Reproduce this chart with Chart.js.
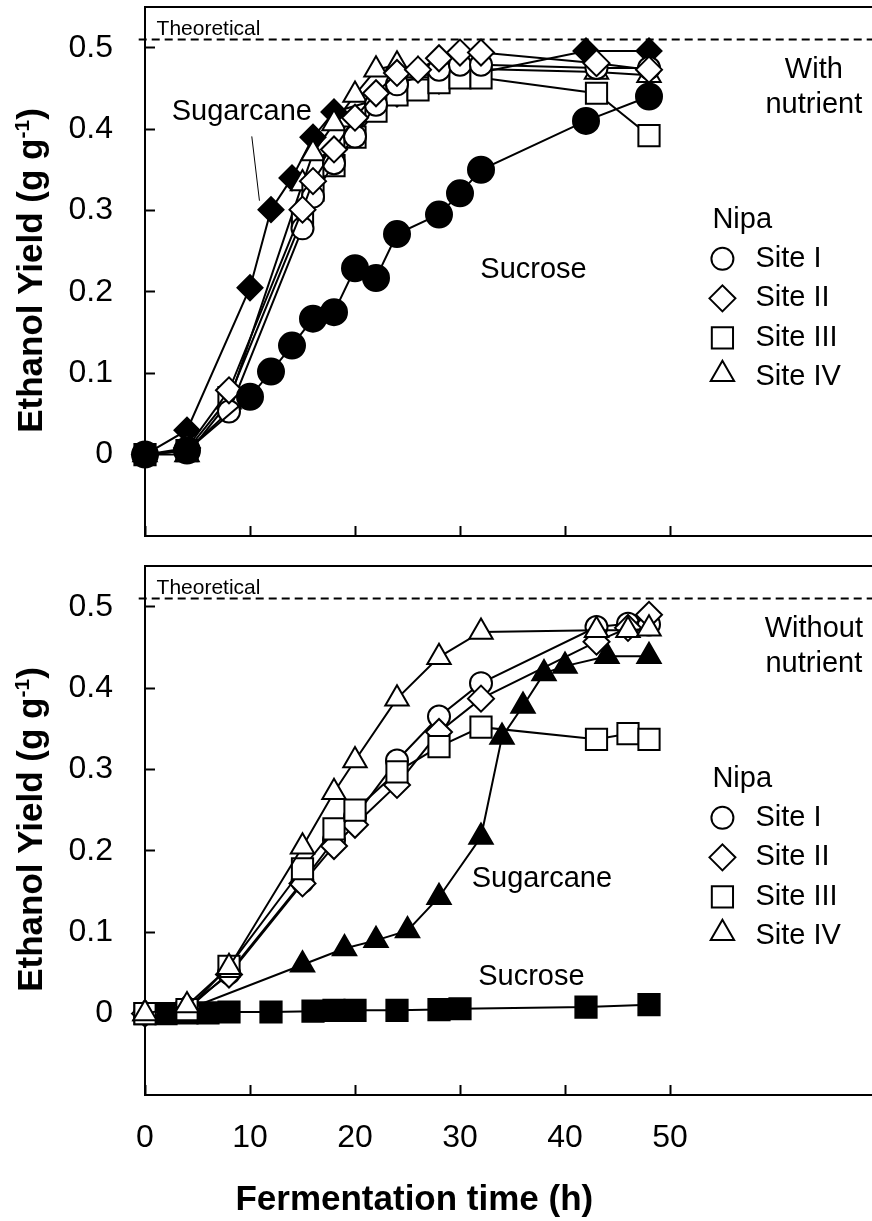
<!DOCTYPE html>
<html><head><meta charset="utf-8">
<script src="https://cdn.jsdelivr.net/npm/chart.js@4.4.1/dist/chart.umd.min.js"></script>
<style>
html,body{margin:0;padding:0;background:#fff;overflow:hidden;width:872px;height:1221px;}
#wrap{position:relative;width:872px;height:1221px;overflow:hidden;background:#fff;}
canvas{position:absolute;left:0;}
#c1{top:0}
#c2{top:559px}
</style></head><body>
<div id="wrap"><canvas id="c1" width="880" height="559"></canvas><canvas id="c2" width="880" height="662"></canvas></div>
<script>
// ---------- axis / tick data ----------
const xTicks = [0, 10, 20, 30, 40, 50];
const yTicks = [0, 0.1, 0.2, 0.3, 0.4, 0.5];
const theoreticalYield = 0.51;

// ---------- With nutrient (top panel) ----------
const wSugarcaneT = [0, 4, 10, 12, 14, 16, 18, 24, 28, 42, 48];
const wSugarcaneY = [0, 0.03, 0.205, 0.301, 0.34, 0.39, 0.421, 0.443, 0.459, 0.496, 0.496];
const wSucroseT = [0, 4, 10, 12, 14, 16, 18, 20, 22, 24, 28, 30, 32, 42, 48];
const wSucroseY = [0, 0.005, 0.071, 0.102, 0.134, 0.167, 0.175, 0.229, 0.217, 0.271, 0.295, 0.321, 0.35, 0.41, 0.44];
const wSite1T = [0, 4, 8, 15, 16, 18, 20, 22, 24, 28, 30, 32, 43, 48];
const wSite1Y = [0, 0.005, 0.053, 0.278, 0.317, 0.358, 0.391, 0.43, 0.455, 0.473, 0.479, 0.479, 0.475, 0.475];
const wSite2T = [0, 4, 8, 15, 16, 18, 20, 22, 24, 26, 28, 30, 32, 43, 48];
const wSite2Y = [0, 0.008, 0.079, 0.301, 0.336, 0.375, 0.414, 0.444, 0.469, 0.473, 0.487, 0.494, 0.494, 0.481, 0.473];
const wSite3T = [0, 4, 8, 15, 16, 18, 20, 22, 24, 26, 28, 30, 32, 43, 48];
const wSite3Y = [0, 0.005, 0.07, 0.29, 0.325, 0.355, 0.39, 0.422, 0.442, 0.448, 0.457, 0.463, 0.463, 0.444, 0.392];
const wSite4T = [0, 4, 8, 15, 16, 18, 20, 22, 24, 26, 28, 43, 48];
const wSite4Y = [0, 0, 0.065, 0.333, 0.37, 0.407, 0.442, 0.473, 0.479, 0.472, 0.475, 0.47, 0.466];

// ---------- Without nutrient (bottom panel) ----------
const nSucroseT = [0, 2, 4, 6, 8, 12, 16, 18, 20, 24, 28, 30, 42, 48];
const nSucroseY = [0, 0, 0.001, 0.001, 0.002, 0.002, 0.003, 0.004, 0.004, 0.004, 0.005, 0.006, 0.008, 0.011];
const nSugarcaneT = [0, 4, 15, 19, 22, 25, 28, 32, 34, 36, 38, 40, 44, 48];
const nSugarcaneY = [0, 0.005, 0.06, 0.08, 0.09, 0.102, 0.143, 0.217, 0.34, 0.378, 0.418, 0.427, 0.439, 0.439];
const nSite1T = [0, 4, 8, 15, 18, 20, 24, 28, 32, 43, 46, 48];
const nSite1Y = [0, 0.005, 0.05, 0.162, 0.213, 0.242, 0.311, 0.365, 0.406, 0.475, 0.479, 0.478];
const nSite2T = [0, 4, 8, 15, 18, 20, 24, 28, 32, 43, 46, 48];
const nSite2Y = [0, 0.008, 0.048, 0.16, 0.206, 0.232, 0.281, 0.346, 0.387, 0.457, 0.474, 0.49];
const nSite3T = [0, 4, 8, 15, 18, 20, 24, 28, 32, 43, 46, 48];
const nSite3Y = [0, 0.005, 0.058, 0.178, 0.227, 0.25, 0.297, 0.328, 0.352, 0.337, 0.344, 0.337];
const nSite4T = [0, 4, 8, 15, 18, 20, 24, 28, 32, 43, 46, 48];
const nSite4Y = [0, 0.01, 0.057, 0.205, 0.272, 0.311, 0.387, 0.438, 0.469, 0.471, 0.471, 0.473];

const legendNames = ['Site I', 'Site II', 'Site III', 'Site IV'];

// ---------- styles ----------
const FONT = "'Liberation Sans', Arial, Helvetica, sans-serif";
Chart.defaults.font.family = FONT;
Chart.defaults.color = '#000';

const ST = {
  site1: {shape: 'circle', r: 11, fill: '#fff'},
  site2: {shape: 'rectRot', r: 13, fill: '#fff'},
  site3: {shape: 'rect', r: 15, fill: '#fff'},
  site4: {shape: 'triangle', r: 13.5, fill: '#fff'},
  filledCircle: {shape: 'circle', r: 13, fill: '#000'},
  filledDiamond: {shape: 'rectRot', r: 12.5, fill: '#000'},
  filledTriangle: {shape: 'triangle', r: 13.5, fill: '#000'},
  filledSquare: {shape: 'rect', r: 15, fill: '#000'}
};

function series(label, t, v, st, order) {
  return {
    label, order,
    data: t.map((x, i) => ({x: x, y: v[i]})),
    xAxisID: 'x', yAxisID: 'y',
    borderColor: '#000', borderWidth: 2, tension: 0, fill: false, clip: false,
    pointStyle: st.shape, pointRadius: st.r, pointHoverRadius: st.r,
    pointBackgroundColor: st.fill, pointBorderColor: '#000', pointBorderWidth: 2
  };
}
function theoSeries() {
  return {
    label: 'Theoretical', order: 100, xAxisID: 'x', yAxisID: 'y',
    data: [{x: -0.6, y: theoreticalYield}, {x: 70, y: theoreticalYield}],
    borderColor: '#000', borderWidth: 2, borderDash: [8, 5], pointRadius: 0, clip: false, fill: false
  };
}

function noPad(s) { s.paddingLeft = 0; s.paddingRight = 0; s.paddingTop = 0; s.paddingBottom = 0; }

function makeScales(showLabels, xHeight) {
  return {
    x: {
      type: 'linear', min: 0, max: 70, position: 'bottom',
      afterBuildTicks: s => { s.ticks = xTicks.map(v => ({value: v})); },
      afterFit: s => { s.height = xHeight; noPad(s); },
      ticks: {display: showLabels, padding: 34, font: {size: 32}, color: '#000', callback: v => String(v)},
      grid: {drawOnChartArea: false, drawTicks: true, tickLength: -10, tickWidth: 2, tickColor: '#000', color: '#000'},
      border: {display: true, color: '#000', width: 2}
    },
    xTop: {
      type: 'linear', min: 0, max: 70, position: 'top',
      afterFit: s => { s.height = 0; noPad(s); },
      ticks: {display: false},
      grid: {drawOnChartArea: false, drawTicks: false},
      border: {display: true, color: '#000', width: 2}
    },
    y: {
      type: 'linear', min: -0.1, max: 0.55, position: 'left',
      afterBuildTicks: s => { s.ticks = yTicks.map(v => ({value: v})); },
      afterFit: s => { s.width = 145; noPad(s); },
      ticks: {padding: 42, font: {size: 32}, color: '#000', callback: v => (Math.abs(v) < 1e-9 ? '0' : Number(v).toFixed(1))},
      grid: {drawOnChartArea: false, drawTicks: true, tickLength: -10, tickWidth: 2, tickColor: '#000', color: '#000'},
      border: {display: true, color: '#000', width: 2}
    }
  };
}

function drawMarker(ctx, st, x, y) {
  ctx.save();
  ctx.fillStyle = st.fill; ctx.strokeStyle = '#000'; ctx.lineWidth = 2;
  Chart.helpers.drawPoint(ctx, {pointStyle: st.shape, radius: st.r, borderWidth: 2, rotation: 0}, x, y);
  ctx.restore();
}

function makeTextPlugin(cfg) {
  return {
    id: 'panelText' + cfg.key,
    afterDatasetsDraw(chart) {
      const ctx = chart.ctx, xs = chart.scales.x, ys = chart.scales.y, ca = chart.chartArea;
      ctx.save();
      ctx.fillStyle = '#000'; ctx.strokeStyle = '#000';
      ctx.textBaseline = 'alphabetic';
      cfg.labels.forEach(l => {
        ctx.font = l.size + 'px ' + FONT;
        ctx.textAlign = l.align;
        ctx.fillText(l.text, xs.getPixelForValue(l.x), ys.getPixelForValue(l.y));
      });
      (cfg.leaders || []).forEach(p => {
        ctx.lineWidth = 1;
        ctx.beginPath();
        ctx.moveTo(xs.getPixelForValue(p[0]), ys.getPixelForValue(p[1]));
        ctx.lineTo(xs.getPixelForValue(p[2]), ys.getPixelForValue(p[3]));
        ctx.stroke();
      });
      const lx = xs.getPixelForValue(cfg.legend.x), ly = ys.getPixelForValue(cfg.legend.y);
      ctx.font = '29px ' + FONT; ctx.textAlign = 'left';
      ctx.fillText('Nipa', lx, ly);
      const styles = [ST.site1, ST.site2, ST.site3, ST.site4];
      legendNames.forEach((name, i) => {
        const by = ly + 38.5 + i * 39.5;
        ctx.fillText(name, lx + 43, by);
        drawMarker(ctx, styles[i], lx + 10, by - (styles[i].shape === 'triangle' ? 11 : 8));
      });
      ctx.save();
      ctx.translate(42, (ca.top + ca.bottom) / 2 - 1);
      ctx.rotate(-Math.PI / 2);
      const p1 = 'Ethanol Yield (g g', p2 = '-1', p3 = ')';
      ctx.font = 'bold 35px ' + FONT; const w1 = ctx.measureText(p1).width, w3 = ctx.measureText(p3).width;
      ctx.font = 'bold 21px ' + FONT; const w2 = ctx.measureText(p2).width;
      const sx = -(w1 + w2 + w3) / 2;
      ctx.textAlign = 'left';
      ctx.font = 'bold 35px ' + FONT; ctx.fillText(p1, sx, 0);
      ctx.font = 'bold 21px ' + FONT; ctx.fillText(p2, sx + w1, -13);
      ctx.font = 'bold 35px ' + FONT; ctx.fillText(p3, sx + w1 + w2, 0);
      ctx.restore();
      if (cfg.xTitle) {
        ctx.font = 'bold 35px ' + FONT; ctx.textAlign = 'center';
        ctx.fillText('Fermentation time (h)', xs.getPixelForValue(25.65), ca.bottom + 115);
      }
      ctx.restore();
    }
  };
}

function makeChart(id, datasets, xHeight, showLabels, cfg) {
  return new Chart(document.getElementById(id), {
    type: 'line',
    data: {datasets},
    options: {
      responsive: false, animation: false, events: [],
      layout: {autoPadding: false, padding: {left: 0, right: 0, top: 7, bottom: 0}},
      plugins: {legend: {display: false}, tooltip: {enabled: false}},
      scales: makeScales(showLabels, xHeight)
    },
    plugins: [makeTextPlugin(cfg)]
  });
}

makeChart('c1', [
  theoSeries(),
  series('Sucrose', wSucroseT, wSucroseY, ST.filledCircle, 1),
  series('Site II', wSite2T, wSite2Y, ST.site2, 2),
  series('Site I', wSite1T, wSite1Y, ST.site1, 3),
  series('Site III', wSite3T, wSite3Y, ST.site3, 4),
  series('Site IV', wSite4T, wSite4Y, ST.site4, 5),
  series('Sugarcane', wSugarcaneT, wSugarcaneY, ST.filledDiamond, 6)
], 23, false, {
  key: 'top',
  labels: [
    {text: 'Theoretical', x: 1.1, y: 0.516, align: 'left', size: 21},
    {text: 'Sugarcane', x: 9.22, y: 0.411, align: 'center', size: 29},
    {text: 'Sucrose', x: 37.0, y: 0.217, align: 'center', size: 29},
    {text: 'With', x: 63.7, y: 0.463, align: 'center', size: 29},
    {text: 'nutrient', x: 63.7, y: 0.42, align: 'center', size: 29}
  ],
  leaders: [[10.17, 0.391, 10.9, 0.312]],
  legend: {x: 54.04, y: 0.278}
});

makeChart('c2', [
  theoSeries(),
  series('Site IV', nSite4T, nSite4Y, ST.site4, 1),
  series('Site III', nSite3T, nSite3Y, ST.site3, 2),
  series('Site II', nSite2T, nSite2Y, ST.site2, 3),
  series('Site I', nSite1T, nSite1Y, ST.site1, 4),
  series('Sugarcane', nSugarcaneT, nSugarcaneY, ST.filledTriangle, 5),
  series('Sucrose', nSucroseT, nSucroseY, ST.filledSquare, 6)
], 126, true, {
  key: 'bottom',
  xTitle: true,
  labels: [
    {text: 'Theoretical', x: 1.1, y: 0.516, align: 'left', size: 21},
    {text: 'Sugarcane', x: 37.8, y: 0.156, align: 'center', size: 29},
    {text: 'Sucrose', x: 36.8, y: 0.035, align: 'center', size: 29},
    {text: 'Without', x: 63.7, y: 0.463, align: 'center', size: 29},
    {text: 'nutrient', x: 63.7, y: 0.42, align: 'center', size: 29}
  ],
  leaders: [],
  legend: {x: 54.04, y: 0.278}
});
</script>
</body></html>
